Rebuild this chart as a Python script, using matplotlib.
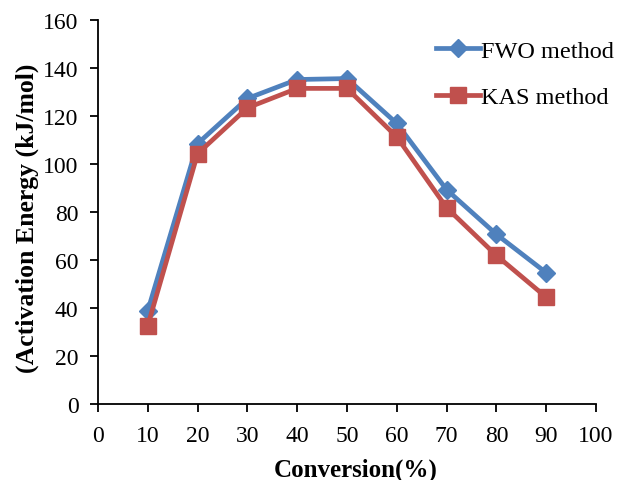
import matplotlib
matplotlib.use("Agg")
import matplotlib.pyplot as plt

conversion = [10, 20, 30, 40, 50, 60, 70, 80, 90]
fwo = [38.9, 108.5, 127.3, 135.2, 135.6, 116.9, 89.3, 70.7, 54.7]
kas = [32.7, 104.3, 123.4, 131.5, 131.5, 111.3, 81.8, 61.9, 44.5]
xticks = list(range(0, 101, 10))
yticks = list(range(0, 161, 20))

plt.rcParams['font.family'] = ['Liberation Serif', 'DejaVu Serif']

fig = plt.figure(figsize=(6.34, 4.81), dpi=100)
ax = fig.add_axes([98/634, 76/481, (596-98)/634, (405-21)/481])

ax.plot(conversion, fwo, color='#4F81BD', lw=3.4, marker='D', markersize=9.5,
        label='FWO method')
ax.plot(conversion, kas, color='#C0504D', lw=3.4, marker='s', markersize=11.5,
        label='KAS method')

ax.set_xlim(0, 100)
ax.set_ylim(0, 160)
ax.set_xticks(xticks)
ax.set_yticks(yticks)
for s in ['top', 'right']:
    ax.spines[s].set_visible(False)
for s in ['left', 'bottom']:
    ax.spines[s].set_linewidth(1.3)
ax.tick_params(direction='out', length=6, width=1.3, labelsize=17)
ax.tick_params(axis='x', pad=9)
ax.tick_params(axis='y', pad=8)

ax.set_xlabel('Conversion(%)', fontsize=18, fontweight='bold')
ax.set_ylabel('(Activation Energy (kJ/mol)', fontsize=18.5, fontweight='bold')
ax.xaxis.set_label_coords(0.518, -0.14)
ax.yaxis.set_label_coords(-0.118, 0.487)

ax.legend(loc='upper right', bbox_to_anchor=(1.08, 1.005), frameon=False,
          fontsize=17.5, handlelength=1.8, labelspacing=1.0, handletextpad=0.05)

fig.savefig('out.png', dpi=100)
